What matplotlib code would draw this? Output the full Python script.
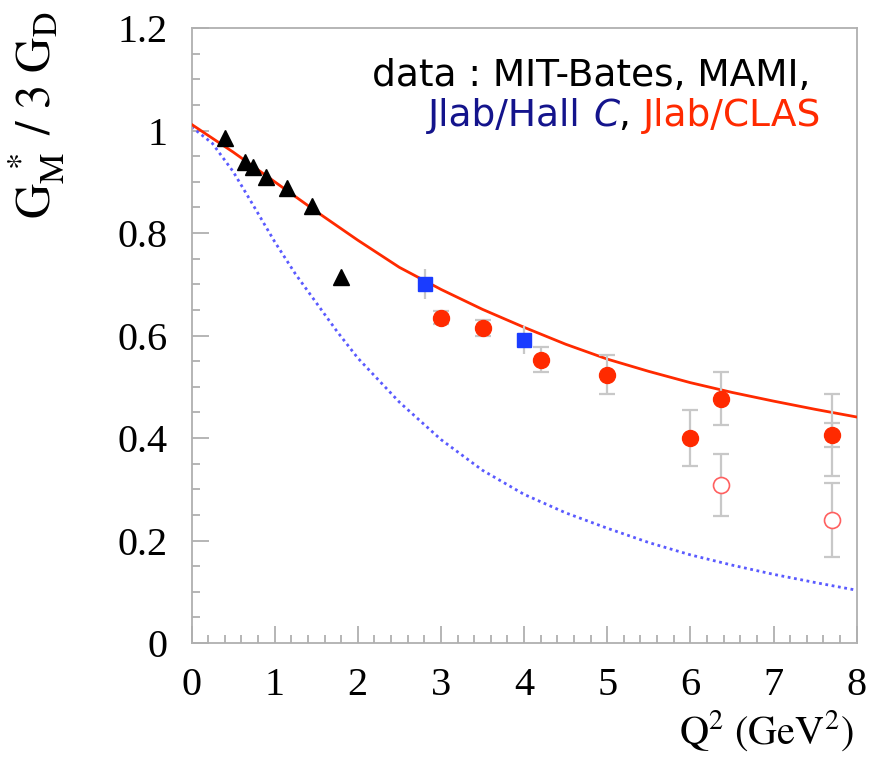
import matplotlib
matplotlib.use("Agg")
import matplotlib.pyplot as plt
from matplotlib.ticker import MultipleLocator

plt.rcParams["mathtext.fontset"] = "stix"

# MIT-Bates, MAMI (triangles)
q2_mit = [0.40, 0.64, 0.74, 0.89, 1.15, 1.45, 1.80]
gm_mit = [0.985, 0.939, 0.928, 0.910, 0.887, 0.853, 0.715]

# Jlab/Hall C (squares)
q2_hallc = [2.81, 4.00]
gm_hallc = [0.700, 0.591]
err_hallc = [0.029, 0.028]

# Jlab/CLAS (filled circles)
q2_clas = [3.00, 3.50, 4.20, 5.00, 6.00, 6.37, 7.70]
gm_clas = [0.635, 0.615, 0.553, 0.523, 0.400, 0.477, 0.406]
err_clas = [0.012, 0.016, 0.024, 0.038, 0.055, 0.052, 0.080]
q2_clas_stat = [7.70]
gm_clas_stat = [0.406]
err_clas_stat = [0.024]

# Jlab/CLAS (open circles)
q2_open = [6.37, 7.70]
gm_open = [0.308, 0.240]
err_open = [0.060, 0.073]

# model (solid red) and bare quark core (blue dots)
q2_model = [0, 0.5, 1.0, 1.5, 2.0, 2.5, 3.0, 3.5, 4.0, 4.5, 5.0, 5.5, 6.0, 6.5, 7.0, 7.5, 8.0]
gm_model = [1.012, 0.958, 0.900, 0.842, 0.786, 0.733, 0.690, 0.651, 0.616,
            0.583, 0.554, 0.530, 0.508, 0.489, 0.472, 0.456, 0.441]
q2_bare = [0, 0.25, 0.5, 0.75, 1.0, 1.25, 1.5, 1.75, 2.0, 2.5, 3.0, 3.5, 4.0,
           4.5, 5.0, 5.5, 6.0, 6.5, 7.0, 7.5, 8.0]
gm_bare = [1.007, 0.975, 0.920, 0.852, 0.783, 0.720, 0.664, 0.608, 0.556, 0.470,
           0.397, 0.337, 0.290, 0.254, 0.224, 0.196, 0.172, 0.152, 0.134, 0.118, 0.103]

red = "#ff2a00"
grey = "#c8c8c8"

fig = plt.figure(figsize=(8.69, 7.72), dpi=100)
ax = fig.add_axes([0.2204, 0.1671, 0.7654, 0.7966])

ax.plot(q2_bare, gm_bare, ls=(0, (1, 1.3)), color="#5a5aff", lw=2.0, zorder=2)
ax.plot(q2_model, gm_model, ls="-", color=red, lw=2.0, zorder=3)

ax.errorbar(q2_hallc, gm_hallc, yerr=err_hallc, fmt="none", ecolor=grey,
            elinewidth=1.6, capsize=0, zorder=4)
ax.errorbar(q2_clas, gm_clas, yerr=err_clas, fmt="none", ecolor=grey,
            elinewidth=1.6, capsize=6, capthick=1.6, zorder=4)
ax.errorbar(q2_clas_stat, gm_clas_stat, yerr=err_clas_stat, fmt="none", ecolor=grey,
            elinewidth=1.6, capsize=6, capthick=1.6, zorder=4)
ax.errorbar(q2_open, gm_open, yerr=err_open, fmt="none", ecolor=grey,
            elinewidth=1.6, capsize=6, capthick=1.6, zorder=4)

ax.plot(q2_mit, gm_mit, "^", color="black", ms=11, zorder=5)
ax.plot(q2_hallc, gm_hallc, "s", color="#1a3cff", ms=10, zorder=5)
ax.plot(q2_clas, gm_clas, "o", color=red, ms=11.5, zorder=5)
ax.plot(q2_open, gm_open, "o", mfc="white", mec="#ff6060", mew=1.2, ms=11.5, zorder=5)

ax.set_xlim(0, 8)
ax.set_ylim(0, 1.2)
ax.set_xticks(range(0, 9))
ax.set_yticks([0, 0.2, 0.4, 0.6, 0.8, 1.0, 1.2])
ax.set_yticklabels(["0", "0.2", "0.4", "0.6", "0.8", "1", "1.2"])
ax.xaxis.set_minor_locator(MultipleLocator(0.2))
ax.yaxis.set_minor_locator(MultipleLocator(0.05))
ax.tick_params(which="both", direction="in", color="#b0b0b0", width=1.3,
               top=False, right=False)
ax.tick_params(which="major", length=12, labelsize=29, pad=17)
ax.tick_params(which="minor", length=6)
for lab in ax.get_xticklabels() + ax.get_yticklabels():
    lab.set_family("Liberation Serif")
for sp in ax.spines.values():
    sp.set_color("#b0b0b0")
    sp.set_linewidth(1.3)

fig.text(0.983, 0.035, r"$\mathrm{Q^2\ (GeV^2)}$", ha="right", va="baseline", fontsize=29)
fig.text(0.042, 0.985, r"$\mathrm{G_M^{\ *}\ /\ 3\ G_D}$", ha="center", va="top",
         rotation=90, fontsize=35)

t1 = ax.text(0.272, 0.906, "data : MIT-Bates, MAMI,", transform=ax.transAxes,
             fontsize=27, color="black", va="baseline", ha="left")
t2 = ax.text(0.356, 0.840, "Jlab/Hall ", transform=ax.transAxes,
             fontsize=27, color="#14148c", va="baseline", ha="left")
t3 = ax.annotate("C", xy=(1, 0), xycoords=t2, fontsize=27, color="#14148c",
                 style="italic", va="bottom", ha="left")
t4 = ax.annotate(", ", xy=(1, 0), xycoords=t3, fontsize=27, color="black",
                 va="bottom", ha="left")
t5 = ax.annotate("Jlab/CLAS", xy=(1, 0), xycoords=t4, fontsize=27, color=red,
                 va="bottom", ha="left")

fig.savefig("out.png", dpi=100)
